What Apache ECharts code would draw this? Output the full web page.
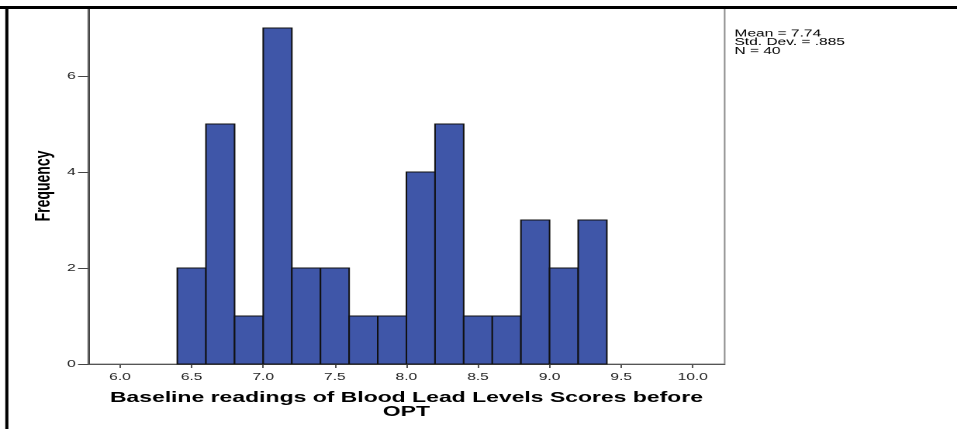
<!DOCTYPE html>
<html><head><meta charset="utf-8">
<script src="https://cdn.jsdelivr.net/npm/echarts@6/dist/echarts.min.js"></script>
<style>
html,body{margin:0;padding:0;background:#fff;overflow:hidden;width:957px;height:429px;}
#wrap{width:957px;height:429px;overflow:hidden;position:relative;}
#chart{width:617px;height:429px;transform:scaleX(1.5511);transform-origin:0 0;position:absolute;left:0;top:0;}
</style></head><body><div id="wrap"><div id="chart"></div></div>
<script>
// ---- data ----
const binEdges = [6.4, 6.6, 6.8, 7.0, 7.2, 7.4, 7.6, 7.8, 8.0, 8.2, 8.4, 8.6, 8.8, 9.0, 9.2, 9.4];
const frequencies = [2, 5, 1, 7, 2, 2, 1, 1, 4, 5, 1, 1, 3, 2, 3];
const xTickValues = [6.0, 6.5, 7.0, 7.5, 8.0, 8.5, 9.0, 9.5, 10.0];
const yTickValues = [0, 2, 4, 6];
const statsLines = ['Mean = 7.74', 'Std. Dev. = .885', 'N = 40'];
const xTitle = 'Baseline readings of Blood Lead Levels Scores before\nOPT';
const yTitle = 'Frequency';

const FONT = '"Liberation Sans", Arial, sans-serif';
const chart = echarts.init(document.getElementById('chart'), null, {renderer: 'canvas', devicePixelRatio: 2});
const barData = frequencies.map((f, i) => [binEdges[i], binEdges[i + 1], f]);

chart.setOption({
  animation: false,
  backgroundColor: '#fff',
  grid: {left: 56.8, right: 149.8, top: 8, bottom: 65, show: true, borderColor: '#8a8a8a', borderWidth: 1, backgroundColor: 'transparent'},
  xAxis: {
    type: 'value', min: 5.777, max: 10.223,
    splitLine: {show: false},
    axisLine: {show: true, lineStyle: {color: '#555', width: 1}},
    axisTick: {show: true, length: 4, customValues: xTickValues, lineStyle: {color: '#555'}},
    axisLabel: {customValues: xTickValues, formatter: v => v.toFixed(1), fontSize: 10, margin: 8, color: '#222', fontFamily: FONT},
    name: xTitle, nameLocation: 'middle', nameGap: 27, nameMoveOverlap: false,
    nameTextStyle: {fontSize: 14.8, fontWeight: 'bold', color: '#000', lineHeight: 14, fontFamily: FONT, align: 'center'}
  },
  yAxis: {
    type: 'value', min: 0, max: 7.417,
    splitLine: {show: false},
    axisLine: {show: true, lineStyle: {color: '#444', width: 1}},
    axisTick: {show: true, length: 6.5, customValues: yTickValues, lineStyle: {color: '#444'}},
    axisLabel: {customValues: yTickValues, fontSize: 10, margin: 8, color: '#222', fontFamily: FONT},
    name: yTitle, nameLocation: 'middle', nameGap: 21.5, nameRotate: 90, nameMoveOverlap: false,
    nameTextStyle: {fontSize: 14, fontWeight: 'bold', color: '#000', fontFamily: FONT}
  },
  series: [{
    type: 'custom',
    data: barData,
    encode: {x: [0, 1], y: 2},
    renderItem: function (params, api) {
      const p0 = api.coord([api.value(0), api.value(2)]);
      const p1 = api.coord([api.value(1), 0]);
      return {
        type: 'rect',
        shape: {x: p0[0], y: p0[1], width: p1[0] - p0[0], height: p1[1] - p0[1]},
        style: {fill: '#3F56A8', stroke: '#111', lineWidth: 1}
      };
    }
  }],
  graphic: [
    {type: 'rect', z: 100, shape: {x: 0, y: 6, width: 620, height: 3}, style: {fill: '#000'}},
    {type: 'rect', z: 100, shape: {x: 3.4, y: 6, width: 2, height: 430}, style: {fill: '#000'}},
    {type: 'text', z: 100, left: 473.5, top: 28.5,
      style: {text: statsLines.join('\n'), fontSize: 10, lineHeight: 8.8, fill: '#000', fontFamily: FONT}}
  ]
});
</script></body></html>
